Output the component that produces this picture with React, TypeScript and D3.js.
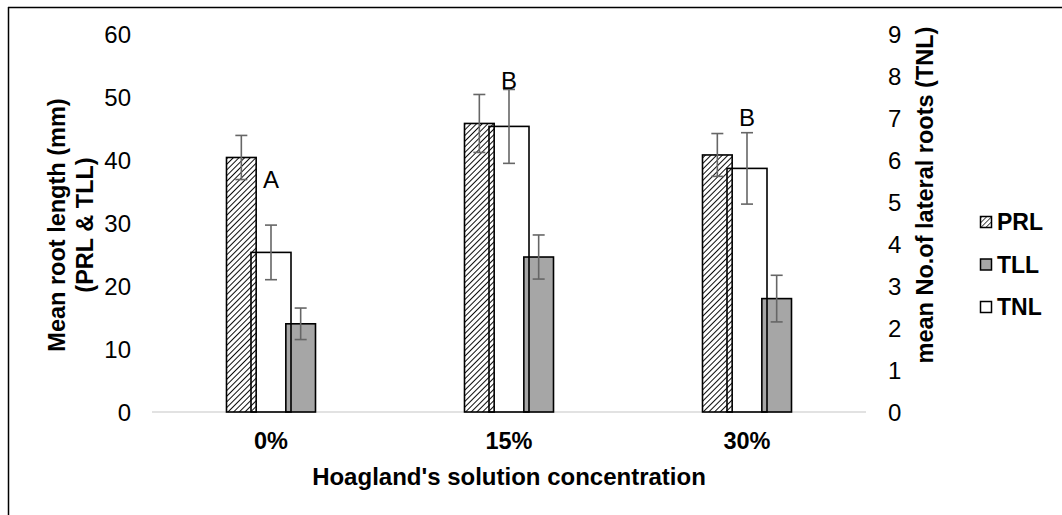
import React from "react";
import * as d3 from "d3";

const categories = ["0%", "15%", "30%"];
const prlValues = [40.4, 45.8, 40.8];
const prlErrors = [3.5, 4.6, 3.4];
const tllValues = [14.0, 24.6, 18.0];
const tllErrors = [2.5, 3.5, 3.7];
const tnlValues = [3.8, 6.8, 5.8];
const tnlErrors = [0.65, 0.88, 0.85];
const groupLetters = ["A", "B", "B"];
const letterHeights = [5.33, 7.69, 6.81]; // in TNL units
const leftTicks = [0, 10, 20, 30, 40, 50, 60];
const rightTicks = [0, 1, 2, 3, 4, 5, 6, 7, 8, 9];
const legendItems = ["PRL", "TLL", "TNL"];

const W = 1062;
const H = 515;
const FONT = "'Liberation Sans', Arial, Helvetica, sans-serif";

export default function App() {
  const x = d3.scaleBand<string>().domain(categories).range([152, 866]).padding(0);
  const slots = d3.scaleBand<string>().domain(["PRL", "TNL", "TLL"]).range([-44.5, 44.5]);
  const yL = d3.scaleLinear().domain([0, 60]).range([412, 34]);
  const yR = d3.scaleLinear().domain([0, 9]).range([412, 34]);
  const center = (c: string) => (x(c) as number) + x.bandwidth() / 2;
  const sw = slots.bandwidth();
  const tnlW = 40;
  const errColor = "#666666";
  const cap = 6;

  const errBar = (cx: number, y1: number, y2: number, key: string) => (
    <g key={key} stroke={errColor} strokeWidth={1.6}>
      <line x1={cx} x2={cx} y1={y1} y2={y2} />
      <line x1={cx - cap} x2={cx + cap} y1={y1} y2={y1} />
      <line x1={cx - cap} x2={cx + cap} y1={y2} y2={y2} />
    </g>
  );

  return (
    <svg
      width={W}
      height={H}
      style={{ position: "fixed", left: 0, top: 0, background: "#fff" }}
      fontFamily={FONT}
    >
      <defs>
        <pattern id="hatch" width={4} height={4} patternUnits="userSpaceOnUse" patternTransform="rotate(45)">
          <rect width={4} height={4} fill="#fff" />
          <line x1={0} y1={0} x2={0} y2={4} stroke="#000" strokeWidth={1.9} />
        </pattern>
        <pattern id="hatchS" width={3.5} height={3.5} patternUnits="userSpaceOnUse" patternTransform="rotate(45)">
          <rect width={3.5} height={3.5} fill="#fff" />
          <line x1={0} y1={0} x2={0} y2={3.5} stroke="#000" strokeWidth={1.4} />
        </pattern>
      </defs>
      <rect x={0} y={0} width={W} height={H} fill="#fff" />
      {/* frame */}
      <line x1={8.5} x2={8.5} y1={7} y2={H} stroke="#000" strokeWidth={1.5} />
      <line x1={8} x2={W} y1={7.5} y2={7.5} stroke="#000" strokeWidth={1.5} />

      {/* baseline */}
      <line x1={152} x2={866} y1={yL(0)} y2={yL(0)} stroke="#d9d9d9" strokeWidth={1.5} />

      {/* left ticks */}
      {leftTicks.map((t) => (
        <text key={"l" + t} x={131} y={yL(t)} dy="0.36em" textAnchor="end" fontSize={24} fill="#000">
          {t}
        </text>
      ))}
      {/* right ticks */}
      {rightTicks.map((t) => (
        <text key={"r" + t} x={888} y={yR(t)} dy="0.36em" textAnchor="start" fontSize={24} fill="#000">
          {t}
        </text>
      ))}

      {/* bars */}
      {categories.map((c, i) => {
        const cx = center(c);
        const px = cx + (slots("PRL") as number);
        const tx = cx + (slots("TLL") as number);
        return (
          <g key={"bars" + c}>
            <rect x={px} y={yL(prlValues[i])} width={sw} height={yL(0) - yL(prlValues[i])} fill="url(#hatch)" stroke="#000" strokeWidth={1.6} />
            <rect x={tx} y={yL(tllValues[i])} width={sw} height={yL(0) - yL(tllValues[i])} fill="#a6a6a6" stroke="#000" strokeWidth={1.6} />
            <rect x={cx - tnlW / 2} y={yR(tnlValues[i])} width={tnlW} height={yR(0) - yR(tnlValues[i])} fill="none" stroke="#000" strokeWidth={1.6} />
            {errBar(px + sw / 2, yL(prlValues[i] + prlErrors[i]), yL(prlValues[i] - prlErrors[i]), "ep" + i)}
            {errBar(tx + sw / 2, yL(tllValues[i] + tllErrors[i]), yL(tllValues[i] - tllErrors[i]), "et" + i)}
            {errBar(cx, yR(tnlValues[i] + tnlErrors[i]), yR(tnlValues[i] - tnlErrors[i]), "en" + i)}
            <text x={cx} y={yR(letterHeights[i])} textAnchor="middle" fontSize={24} fill="#000">
              {groupLetters[i]}
            </text>
            <text x={cx} y={449} textAnchor="middle" fontSize={23.5} fontWeight="bold" fill="#000">
              {c}
            </text>
          </g>
        );
      })}

      {/* x title */}
      <text x={509} y={485} textAnchor="middle" fontSize={24} fontWeight="bold" fill="#000">
        Hoagland's solution concentration
      </text>

      {/* left title */}
      <g transform="translate(57,225) rotate(-90)">
        <text x={0} y={0} dy="0.36em" textAnchor="middle" fontSize={23.5} fontWeight="bold" fill="#000">
          Mean root length (mm)
        </text>
        <text x={0} y={28} dy="0.36em" textAnchor="middle" fontSize={23.5} fontWeight="bold" fill="#000">
          (PRL &amp; TLL)
        </text>
      </g>

      {/* right title */}
      <g transform="translate(925,195) rotate(-90)">
        <text x={0} y={0} dy="0.36em" textAnchor="middle" fontSize={23.5} fontWeight="bold" fill="#000">
          mean No.of lateral roots (TNL)
        </text>
      </g>

      {/* legend */}
      {legendItems.map((k, i) => {
        const ly = 222 + i * 42.5;
        const fill = k === "PRL" ? "url(#hatchS)" : k === "TLL" ? "#a6a6a6" : "#fff";
        return (
          <g key={"lg" + k}>
            <rect x={980.5} y={ly - 5.5} width={11} height={11} fill={fill} stroke="#000" strokeWidth={1.5} />
            <text x={997} y={ly} dy="0.36em" fontSize={23} fontWeight="bold" fill="#000">
              {k}
            </text>
          </g>
        );
      })}
    </svg>
  );
}
